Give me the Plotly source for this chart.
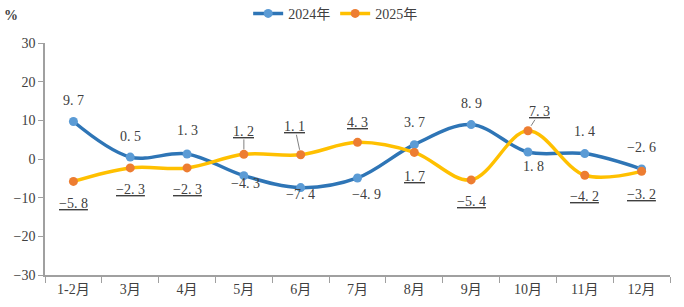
import plotly.graph_objects as go

months = ["1-2月", "3月", "4月", "5月", "6月", "7月", "8月", "9月", "10月", "11月", "12月"]
y2024 = [9.7, 0.5, 1.3, -4.3, -7.4, -4.9, 3.7, 8.9, 1.8, 1.4, -2.6]
y2025 = [-5.8, -2.3, -2.3, 1.2, 1.1, 4.3, 1.7, -5.4, 7.3, -4.2, -3.2]
yticks = [30, 20, 10, 0, -10, -20, -30]

# label offsets (pixels) relative to the points: (xshift, yshift)
off2024 = [(0, 21), (0, 21), (0, 23), (2, -8), (0, -7), (9, -17), (0, 22), (0, 21), (6, -14), (0, 22), (0, 22)]
off2025 = [(0, -22), (0, -22), (0, -22), (0, 23), (-6, 28), (0, 20), (0, -24), (0, -22), (12, 19), (0, -21), (0, -23)]
arrow2025 = [False, False, False, True, True, False, False, False, True, False, False]

FONT = "Liberation Serif, Noto Sans CJK SC, serif"
TXT = "#404040"

fig = go.Figure()
fig.add_trace(go.Scatter(
    x=months, y=y2024, name="2024年", mode="lines+markers",
    line=dict(color="#2E75B6", width=3.5, shape="spline", smoothing=1.0),
    marker=dict(color="#5B9BD5", size=9),
))
fig.add_trace(go.Scatter(
    x=months, y=y2025, name="2025年", mode="lines+markers",
    line=dict(color="#FFC000", width=3.5, shape="spline", smoothing=1.0),
    marker=dict(color="#ED7D31", size=9),
))

def fmt(v):
    return f"{v:.1f}".replace("-", "−").replace(".", ". ")

anns = []
shapes = []
for m, v, (dx, dy) in zip(months, y2024, off2024):
    anns.append(dict(x=m, y=v, text=fmt(v), showarrow=False, xshift=dx, yshift=dy,
                     font=dict(family=FONT, size=14, color=TXT)))
for i, (m, v, (dx, dy), arr) in enumerate(zip(months, y2025, off2025, arrow2025)):
    anns.append(dict(x=m, y=v, text="<u>" + fmt(v) + "</u>", showarrow=False, xshift=dx, yshift=dy,
                     font=dict(family=FONT, size=14, color=TXT)))
    if arr:
        # leader line from near the marker toward the label
        x0 = dx * 5 / dy
        x1 = dx * (dy - 8) / dy
        shapes.append(dict(type="line", xref="x", yref="y", xsizemode="pixel", ysizemode="pixel",
                           xanchor=i, yanchor=v, x0=x0, x1=x1, y0=5, y1=dy - 8,
                           line=dict(color="#808080", width=1)))

anns.append(dict(xref="paper", yref="paper", x=-0.055, y=1.12, text="<b>%</b>", showarrow=False,
                 xanchor="center", yanchor="middle", font=dict(family=FONT, size=14, color=TXT)))

fig.update_layout(
    width=684, height=307,
    margin=dict(l=45, r=14, t=43, b=32, autoexpand=False),
    paper_bgcolor="white", plot_bgcolor="white",
    showlegend=True,
    legend=dict(orientation="h", x=0.49, xanchor="center", xref="container",
                y=0.955, yanchor="middle", yref="container",
                font=dict(family=FONT, size=14, color=TXT),
                bgcolor="rgba(0,0,0,0)"),
    annotations=anns,
    shapes=shapes,
    font=dict(family=FONT, color=TXT),
)
fig.update_xaxes(
    type="category", showline=True, linecolor="#A0A0A0", linewidth=1.5,
    ticks="outside", tickson="boundaries", ticklen=6, tickcolor="#A0A0A0",
    showgrid=False, zeroline=False, tickfont=dict(family=FONT, size=14, color=TXT),
    range=[-0.5, 10.5],
)
fig.update_yaxes(
    range=[-30, 30], tickvals=yticks, ticktext=[str(t).replace("-", "−") for t in yticks],
    showline=True, linecolor="#A0A0A0", linewidth=1.5, ticks="outside", ticklen=5,
    tickcolor="#A0A0A0", showgrid=False, zeroline=False,
    tickfont=dict(family=FONT, size=14, color=TXT),
)

fig.write_html("out.html")
